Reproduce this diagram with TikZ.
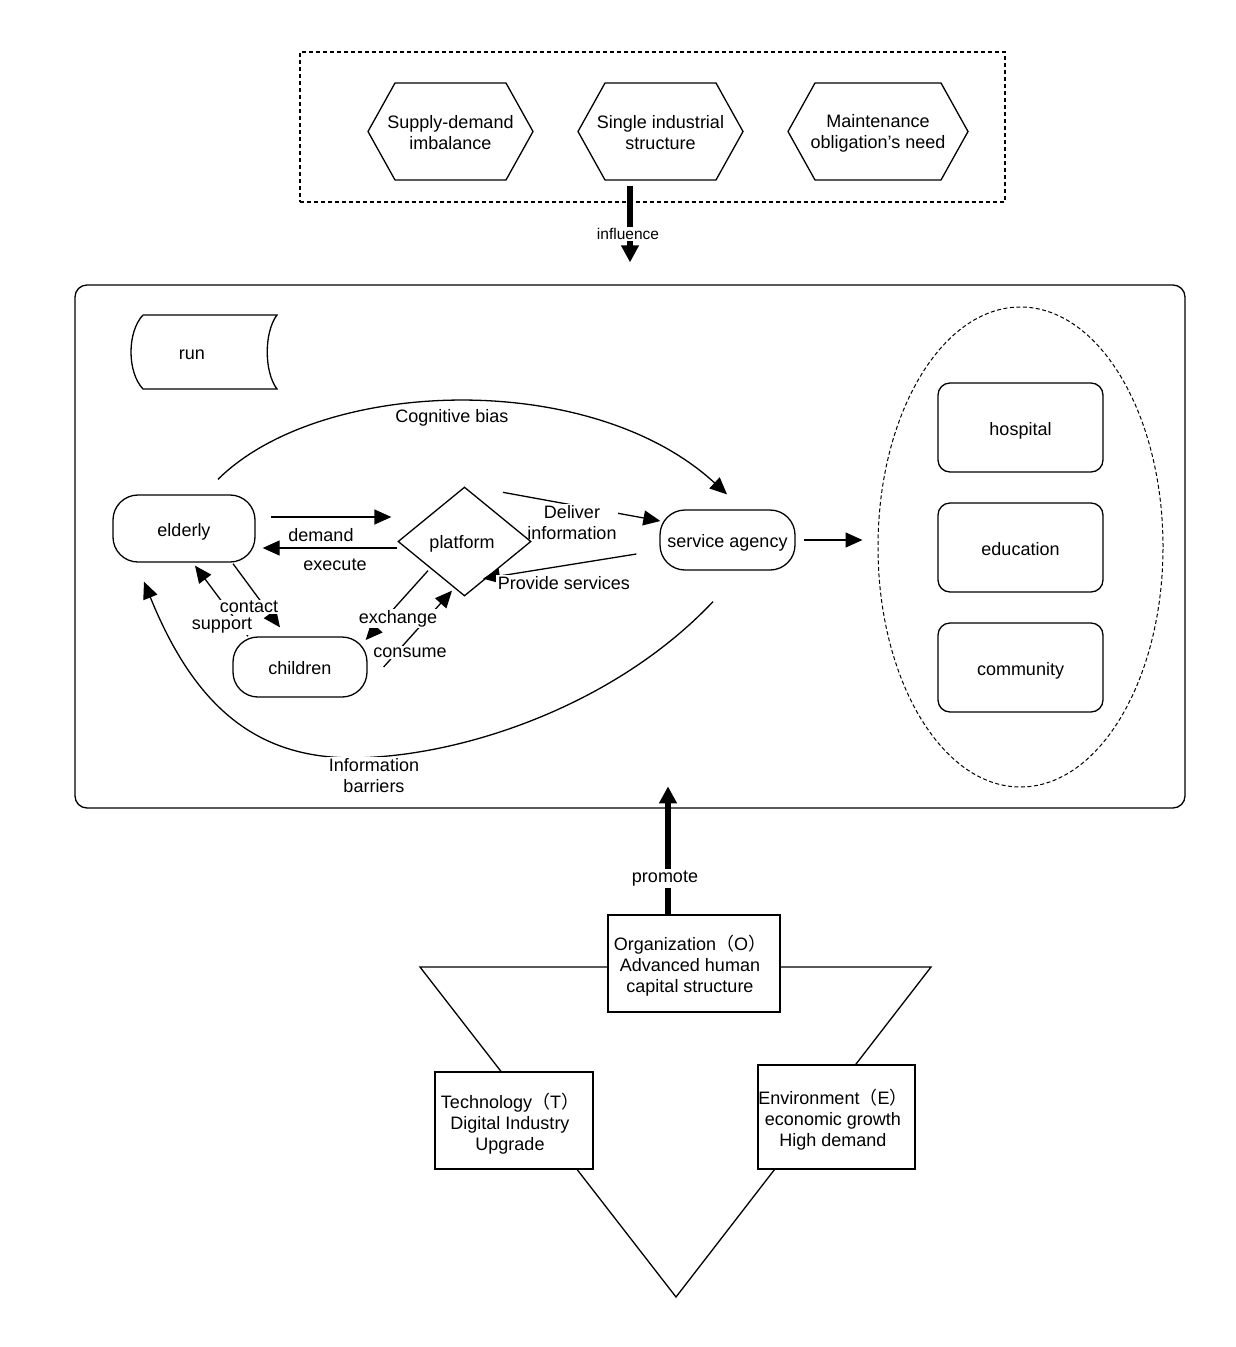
\documentclass[tikz,border=0pt]{standalone}
\usepackage{fontspec}
\setmainfont{Liberation Sans}
\newfontfamily\cjk{Noto Sans CJK SC}
\usetikzlibrary{arrows.meta,shapes.geometric,calc}
\pgfdeclarelayer{edges}
\pgfsetlayers{edges,main}
\newcommand\hexshape[3]{%
  \draw ($(#1)+(-#2,-1.5)$) -- ($(#1)+(-#2+#3,-50)$) -- ($(#1)+(#2-#3,-50)$)
   -- ($(#1)+(#2,-1.5)$) -- ($(#1)+(#2-#3,47)$) -- ($(#1)+(-#2+#3,47)$) -- cycle;}
\begin{document}
\begin{tikzpicture}[x=1pt,y=-1pt,line width=1.3pt,
  font=\fontsize{18}{21}\selectfont,
  txt/.style={align=center,inner sep=0pt},
  rbox/.style={draw,rounded corners=25pt,inner sep=0pt,text height=19pt,text depth=4pt},
  sbox/.style={draw,rounded corners=12pt,minimum width=165pt,minimum height=89pt,inner sep=0pt,text height=19pt,text depth=4pt},
  pbox/.style={draw,fill=white,inner sep=0pt},
  arr/.style={line width=1.3pt,-{Triangle[length=17pt,width=15pt]}},
  fat/.style={line width=6pt,-{Triangle[length=17pt,width=17pt]}},
  lbl/.style={fill=white,inner sep=1.5pt,align=center}]
\useasboundingbox (0,0) rectangle (1235,1347);

% top dashed frame and hexagons
\node[draw,dashed,dash pattern=on 4pt off 3pt,minimum width=705pt,minimum height=150pt,inner sep=0pt] (topbox) at (652.5,127) {};
\node[txt] (h1) at (450.5,133) {Supply-demand\\imbalance};
\node[txt] (h2) at (660.5,133) {Single industrial\\structure};
\node[txt] (h3) at (878,133) {Maintenance\\obligation’s need};
\hexshape{h1}{82.5}{27}
\hexshape{h2}{82.5}{27}
\hexshape{h3}{90}{27}

% main frame
\node[draw,rounded corners=12pt,minimum width=1110pt,minimum height=523pt,inner sep=0pt] (main) at (630,546.5) {};

% run shape
\node[txt] (run) at (192,355) {run};
\draw (143,315) -- (277,315) .. controls (264,332) and (264,372) .. (277,389)
  -- (143,389) .. controls (127,372) and (127,332) .. (143,315);

% inner nodes
\node[rbox,minimum width=142pt,minimum height=67pt] (elderly) at (184,528.5) {elderly};
\node[draw,diamond,aspect=1.22,minimum width=133pt,minimum height=109pt,inner sep=0pt] (plat) at (464.5,541.5) {};
\node[txt] at (462,544) {platform};
\node[rbox,minimum width=135pt,minimum height=60pt] (agency) at (727.5,540) {service agency};
\node[rbox,minimum width=134pt,minimum height=60pt] (children) at (300,667) {children};

% ellipse with institutions
\node[draw,ellipse,dashed,dash pattern=on 4pt off 2.5pt,line width=1pt,minimum width=285pt,minimum height=480pt,inner sep=0pt] (ell) at (1020.5,547) {};
\node[sbox] (hosp) at (1020.5,427.5) {hospital};
\node[sbox] (edu) at (1020.5,547.5) {education};
\node[sbox] (comm) at (1020.5,667.5) {community};

% TOE boxes
\node[pbox,minimum width=172pt,minimum height=97pt] (org) at (694,963.5) {};
\node[txt] at (690,966) {Organization{\cjk （}O{\cjk ）}\\Advanced human\\capital structure};
\node[pbox,minimum width=158pt,minimum height=97pt] (tech) at (514,1120.5) {};
\node[txt] at (510,1124) {Technology{\cjk （}T{\cjk ）}\\Digital Industry\\Upgrade};
\node[pbox,minimum width=157pt,minimum height=104pt] (env) at (836.5,1117) {};
\node[txt] at (833,1120) {Environment{\cjk （}E{\cjk ）}\\economic growth\\High demand};

\begin{pgfonlayer}{edges}
\begin{scope}[line width=1.3pt]
% triangle behind boxes
\draw (420,967) -- (931,967) -- (676,1297) -- cycle;

% connectors
\draw[arr] ($(elderly.east)+(15,-11.5)$) -- ($(plat.west)+(-6,-24.5)$);
\draw[arr] ($(plat.west)+(0,6.5)$) -- ($(elderly.east)+(7,19.5)$);
\draw[arr] ($(plat.north)+(38.5,6)$) -- ($(agency.west)+(1,-19)$);
\draw[arr] ($(agency.west)+(-23,14)$) -- ($(plat.south)+(18.5,-18)$);
\draw[arr] ($(elderly.north)+(34,-15)$) .. controls (320,378) and (590,368) .. ($(agency.north)+(-0.5,-15)$);
\draw[arr] ($(agency.south)+(-14.5,31)$) .. controls (620,700) and (480,750) .. (376,757)
   .. controls (270,765) and (200,720) .. ($(elderly.south)+(-40,19)$);
\draw[arr] ($(elderly.south)+(49,1)$) -- ($(children.north)+(-20,-9)$);
\draw[arr] ($(children.north)+(-52,0)$) -- ($(elderly.south)+(11,3)$);
\draw[arr] ($(plat.south)+(-36.5,-26)$) -- ($(children.east)+(-2,-27)$);
\draw[arr] ($(children.east)+(16,0)$) -- ($(plat.south)+(-12.5,-6)$);
\draw[arr] ($(agency.east)+(8,0)$) -- ($(ell.west)+(-15,-7)$);
\draw[fat] ($(topbox.south -| main.north)+(0,-17)$) -- ($(main.north)+(0,-22)$);
\draw[fat] ($(org.north)+(-26,0)$) -- ($(org.north)+(-26,-128)$);

% labels
\node[lbl] at (452,418) {Cognitive bias};
\node[lbl] at (321,535) {demand};
\node[lbl] at (335,565) {execute};
\node[lbl] at (572,523) {Deliver\\information};
\node[lbl] at (564,583) {Provide services};
\node[lbl] at (249,607) {contact};
\node[lbl] at (222,625.5) {support};
\node[lbl] at (398,618.5) {exchange};
\node[lbl] at (410,652.5) {consume};
\node[lbl] at (374,776) {Information\\barriers};
\node[lbl,font=\fontsize{15.5}{18}\selectfont] at (628,234) {influence};
\node[lbl] at (665,878.5) {promote};
\end{scope}
\end{pgfonlayer}
\end{tikzpicture}
\end{document}
